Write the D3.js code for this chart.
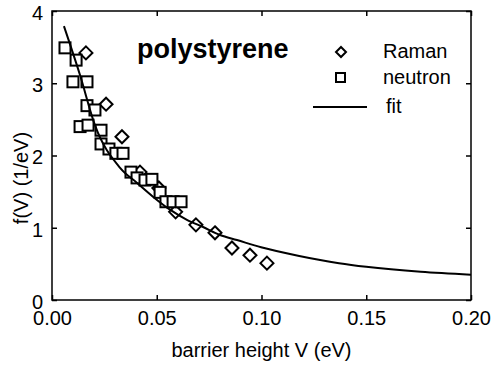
<!DOCTYPE html>
<html>
<head>
<meta charset="utf-8">
<script src="https://cdn.jsdelivr.net/npm/d3@7"></script>
<style>
  body { margin: 0; background: #fff; }
  svg { font-family: "Liberation Sans", Arial, sans-serif; }
</style>
</head>
<body>
<svg></svg>
<script>
// values
const ramanV = [0.0162, 0.0258, 0.0334, 0.0420, 0.0510, 0.0590, 0.0687, 0.0778, 0.0859, 0.0945, 0.1026];
const ramanF = [3.42, 2.71, 2.26, 1.77, 1.55, 1.22, 1.04, 0.93, 0.72, 0.62, 0.51];

const neutronV = [0.0062, 0.0115, 0.0100, 0.0167, 0.0167, 0.0205, 0.0134, 0.0172, 0.0234, 0.0234, 0.0272,
                  0.0305, 0.0339, 0.0377, 0.0406, 0.0444, 0.0477, 0.0516, 0.0544, 0.0578, 0.0616];
const neutronF = [3.49, 3.32, 3.02, 3.02, 2.69, 2.63, 2.40, 2.42, 2.35, 2.16, 2.09,
                  2.03, 2.03, 1.77, 1.69, 1.66, 1.67, 1.49, 1.36, 1.36, 1.36];

const fitV = [0.0057, 0.0134, 0.0205, 0.0325, 0.0406, 0.0482, 0.0563, 0.0644, 0.0721, 0.0802, 0.0883,
              0.0998, 0.118, 0.137, 0.150, 0.176, 0.200];
const fitF = [3.79, 3.11, 2.42, 1.83, 1.62, 1.43, 1.25, 1.11, 1.01, 0.90, 0.83,
              0.73, 0.61, 0.51, 0.46, 0.39, 0.35];

const xTicks = [0, 0.05, 0.10, 0.15, 0.20];
const yTicks = [0, 1, 2, 3, 4];

const width = 492;
const height = 366;
const plotLeft = 52, plotRight = 471, plotTop = 11, plotBottom = 300;
const fontSize = 20;

const svg = d3.select('svg')
  .attr('width', width)
  .attr('height', height);

const xScale = d3.scaleLinear().domain([0, 0.2]).range([plotLeft, plotRight]);
const yScale = d3.scaleLinear().domain([0, 4]).range([plotBottom, plotTop]);

// fit line
const line = d3.line()
  .x(d => xScale(d[0]))
  .y(d => yScale(d[1]))
  .curve(d3.curveMonotoneX);

// diamonds
const ds = 6.5;
const diamond = (cx, cy, s) => `M${cx},${cy - s}L${cx + s},${cy}L${cx},${cy + s}L${cx - s},${cy}Z`;

svg.append('g').selectAll('path')
  .data(ramanV.map((v, i) => [v, ramanF[i]]))
  .enter()
  .append('path')
    .attr('d', d => diamond(xScale(d[0]), yScale(d[1]), ds))
    .attr('fill', '#fff')
    .attr('stroke', '#000')
    .attr('stroke-width', 2);

// squares
const sq = 11;
svg.append('g').selectAll('rect')
  .data(neutronV.map((v, i) => [v, neutronF[i]]))
  .enter()
  .append('rect')
    .attr('x', d => xScale(d[0]) - sq / 2)
    .attr('y', d => yScale(d[1]) - sq / 2)
    .attr('width', sq)
    .attr('height', sq)
    .attr('fill', '#fff')
    .attr('stroke', '#000')
    .attr('stroke-width', 2);

svg.append('path')
  .datum(fitV.map((v, i) => [v, fitF[i]]))
  .attr('d', line)
  .attr('fill', 'none')
  .attr('stroke', '#000')
  .attr('stroke-width', 2);

// axes with inward ticks on all sides
const tickLen = 5;
const xAxis = d3.axisBottom(xScale).tickValues(xTicks).tickSize(-tickLen).tickSizeOuter(0).tickPadding(11).tickFormat(d3.format('.2f'));
const xAxisTop = d3.axisTop(xScale).tickValues(xTicks).tickSize(-tickLen).tickSizeOuter(0).tickFormat('');
const yAxis = d3.axisLeft(yScale).tickValues(yTicks).tickSize(-tickLen).tickSizeOuter(0).tickPadding(9).tickFormat(d3.format('d'));
const yAxisRight = d3.axisRight(yScale).tickValues(yTicks).tickSize(-tickLen).tickSizeOuter(0).tickFormat('');

const gx = svg.append('g').attr('transform', `translate(0, ${plotBottom})`).call(xAxis);
svg.append('g').attr('transform', `translate(0, ${plotTop})`).call(xAxisTop);
const gy = svg.append('g').attr('transform', `translate(${plotLeft}, 0)`).call(yAxis);
svg.append('g').attr('transform', `translate(${plotRight}, 0)`).call(yAxisRight);

svg.selectAll('.domain').remove();
svg.selectAll('.tick line').attr('stroke', '#000').attr('stroke-width', 1.5);
svg.selectAll('.tick text')
  .attr('fill', '#000')
  .style('font-size', fontSize + 'px')
  .style('font-family', '"Liberation Sans", Arial, sans-serif');
gy.selectAll('.tick text').attr('dy', '0.42em');

// frame
svg.append('rect')
  .attr('x', plotLeft)
  .attr('y', plotTop)
  .attr('width', plotRight - plotLeft)
  .attr('height', plotBottom - plotTop)
  .attr('fill', 'none')
  .attr('stroke', '#000')
  .attr('stroke-width', 1.5);

// axis titles
svg.append('text')
  .attr('x', (plotLeft + plotRight) / 2)
  .attr('y', 357)
  .style('text-anchor', 'middle')
  .style('font-size', fontSize + 'px')
  .text('barrier height V (eV)');

svg.append('text')
  .attr('transform', 'rotate(-90)')
  .attr('x', -178)
  .attr('y', 28)
  .style('text-anchor', 'middle')
  .style('font-size', fontSize + 'px')
  .text('f(V) (1/eV)');

// title
svg.append('text')
  .attr('x', 137)
  .attr('y', 58)
  .style('font-size', '27px')
  .style('font-weight', 'bold')
  .text('polystyrene');

// legend
const lg = svg.append('g');
lg.append('path')
  .attr('d', diamond(341, 52, 5))
  .attr('fill', '#fff')
  .attr('stroke', '#000')
  .attr('stroke-width', 2);
lg.append('text').attr('x', 383).attr('y', 58).style('font-size', fontSize + 'px').text('Raman');

lg.append('rect')
  .attr('x', 336).attr('y', 73).attr('width', 9).attr('height', 9)
  .attr('fill', '#fff')
  .attr('stroke', '#000')
  .attr('stroke-width', 2);
lg.append('text').attr('x', 383).attr('y', 84).style('font-size', fontSize + 'px').text('neutron');

lg.append('line')
  .attr('x1', 313).attr('x2', 367).attr('y1', 107).attr('y2', 107)
  .attr('stroke', '#000')
  .attr('stroke-width', 2);
lg.append('text').attr('x', 386).attr('y', 113).style('font-size', fontSize + 'px').text('fit');
</script>
</body>
</html>
